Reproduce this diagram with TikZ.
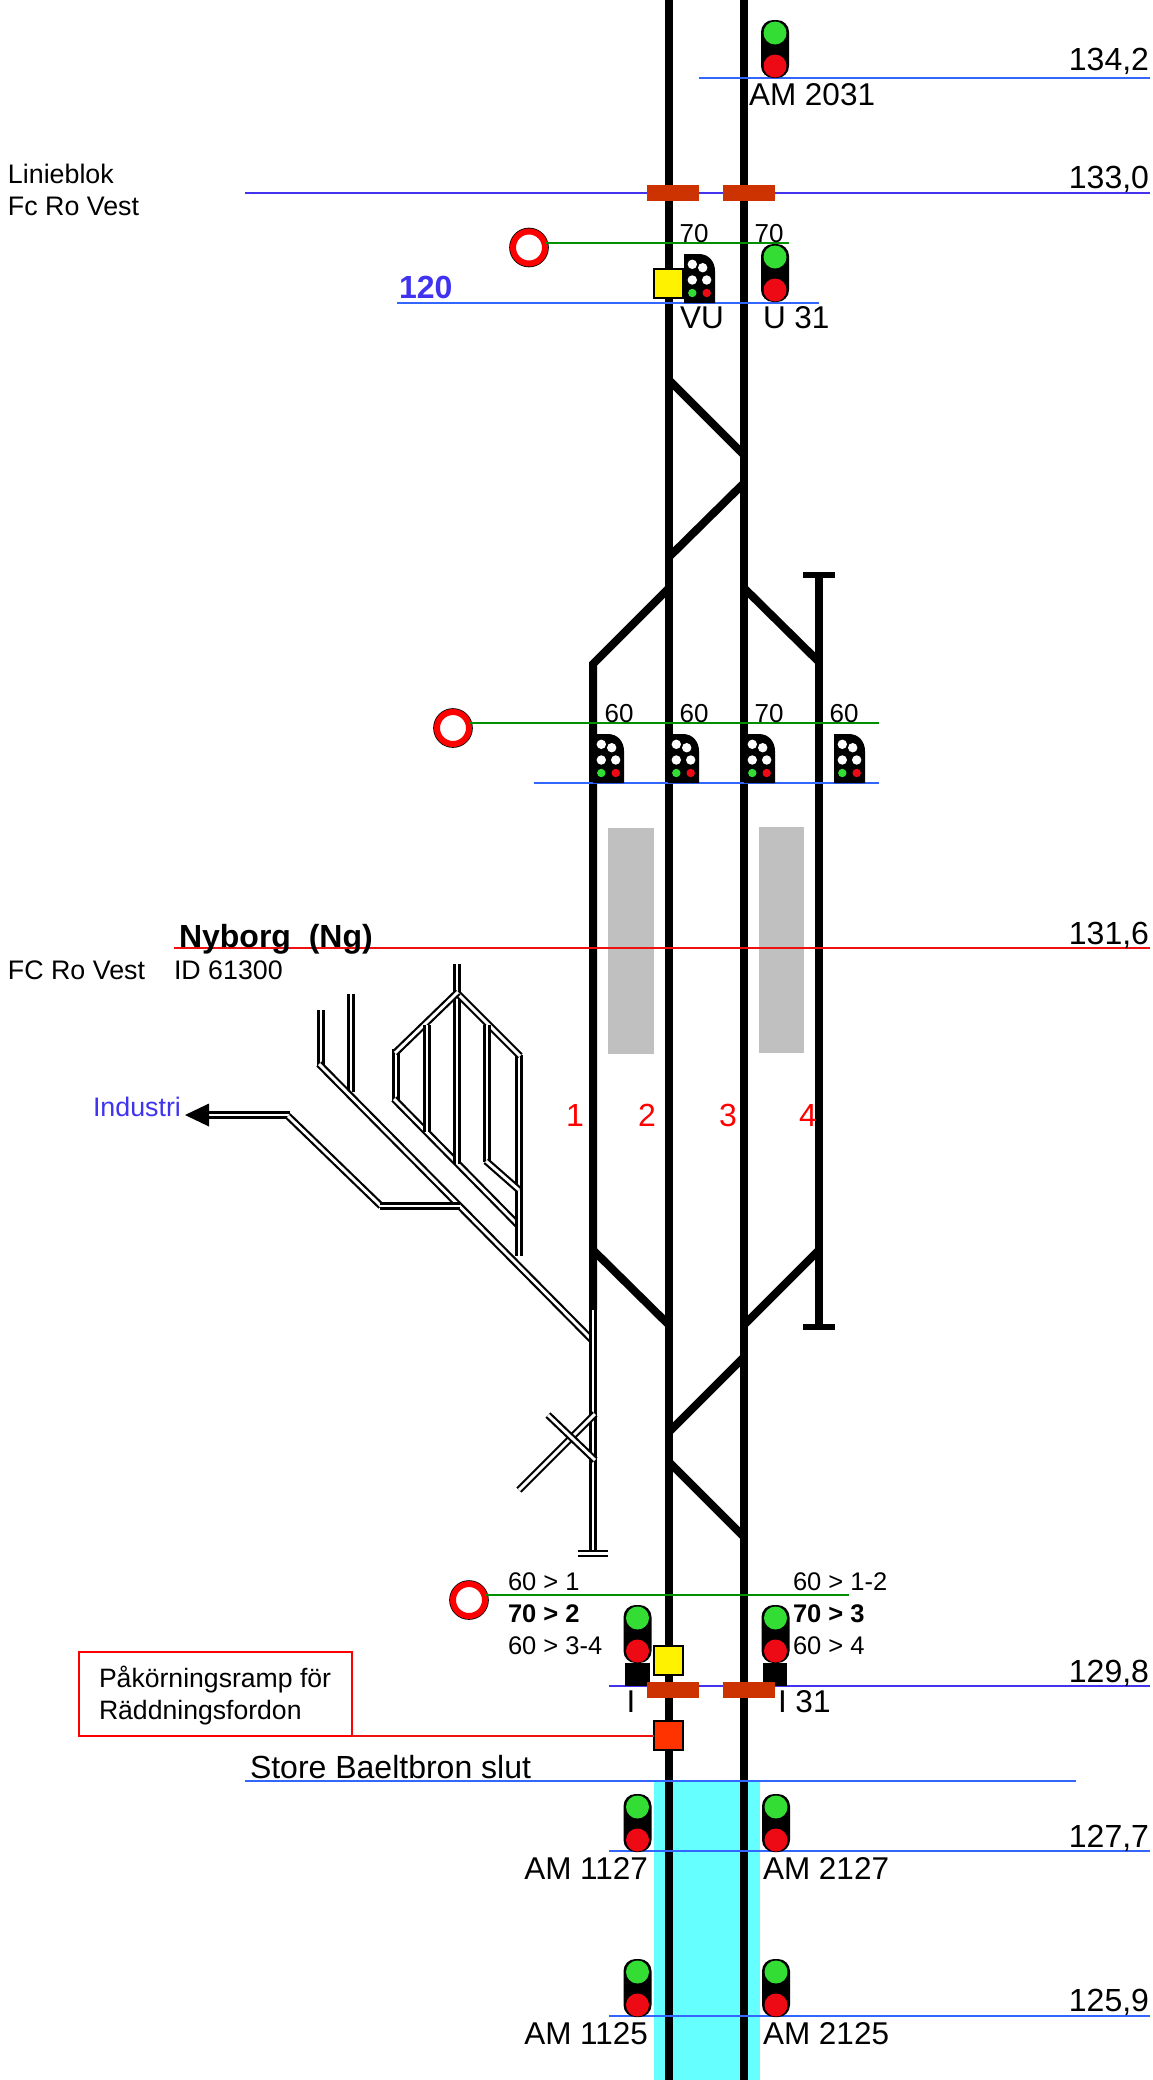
\documentclass[tikz,border=0pt]{standalone}
\usepackage{fontspec}
\setmainfont{Liberation Sans}
\definecolor{lineblue}{HTML}{3366FF}
\definecolor{linepurple}{HTML}{4433EE}
\definecolor{linegreen}{HTML}{009000}
\definecolor{linered}{HTML}{F01010}
\definecolor{brick}{HTML}{CC3300}
\definecolor{siggreen}{HTML}{33DD33}
\definecolor{sigred}{HTML}{EE0A14}
\definecolor{platform}{HTML}{C0C0C0}
\definecolor{bridge}{HTML}{66FFFF}
\definecolor{ramporange}{HTML}{FF3300}
\definecolor{textblue}{HTML}{3F33F0}
\tikzset{
  txt/.style={inner sep=0pt,outer sep=0pt,anchor=base west,text=black},
  fa/.style={font=\fontsize{26}{28}\selectfont},
  fl/.style={font=\fontsize{26.8}{29}\selectfont},
  fs/.style={font=\fontsize{25.5}{27}\selectfont},
  fb/.style={font=\fontsize{31.5}{33}\selectfont},
  fk/.style={font=\fontsize{32}{34}\selectfont},
  fr/.style={font=\fontsize{26.6}{29}\selectfont},
  ctr/.style={anchor=base},
  rgt/.style={anchor=base east},
  track/.style={line width=8pt,black,line join=miter},
  yard/.style={line width=2.2pt,double=white,double distance=2.9pt,black},
  bluel/.style={line width=2pt,lineblue},
  purpl/.style={line width=2pt,linepurple},
  greenl/.style={line width=2pt,linegreen},
  redl/.style={line width=2pt,linered},
  block/.style={fill=brick},
  ring/.style={circle,minimum size=32pt,inner sep=0pt,outer sep=0pt,draw=red,line width=6pt,fill=white,preaction={draw=black,line width=7.6pt}},
  mark box/.style={rectangle,minimum size=29pt,inner sep=0pt,outer sep=0pt,draw=black,line width=2pt},
}
\newcommand{\lightsig}[2]{\begin{scope}[shift={(#1,#2)}]
  \fill[black,rounded corners=12pt] (-14,0) rectangle (14,58);
  \fill[siggreen] (0,13) circle (11.5);
  \fill[sigred] (0,46) circle (11.5);
\end{scope}}
\newcommand{\dotsig}[2]{\begin{scope}[shift={(#1,#2)}]
  \fill[black] (0,0) -- (15,0) .. controls (25,0) and (31,8) .. (31,17) -- (31,49) -- (0,49) -- cycle;
  \fill[white] (8.3,10.3) circle (4.7) (18.7,13.7) circle (4.7) (8.3,26) circle (4.7) (22.7,26) circle (4.7);
  \fill[siggreen] (8.3,39) circle (4.2);
  \fill[sigred] (22.7,39) circle (4.2);
\end{scope}}
\begin{document}
\begin{tikzpicture}[x=1pt,y=-1pt]
\useasboundingbox (0,0) rectangle (1152,2080);
\fill[white] (0,0) rectangle (1152,2080);
% bridge and platforms
\fill[bridge] (654,1781) rectangle (760,2080);
\fill[platform] (608,828) rectangle (654,1054);
\fill[platform] (759,827) rectangle (804,1053);
% main tracks
\draw[track] (669,0) -- (669,2080);
\draw[track] (744,0) -- (744,2080);
\draw[track] (669,380) -- (744,455);
\draw[track] (669,557) -- (744,483);
\draw[track] (593,1310) -- (593,664) -- (669,588);
\draw[track] (744,588) -- (819,662);
\draw[track] (819,575) -- (819,1327);
\draw[line width=6pt] (803,575) -- (835,575);
\draw[line width=6pt] (803,1327) -- (835,1327);
\draw[track] (593,1250) -- (669,1325);
\draw[track] (819,1250) -- (744,1325);
\draw[track] (744,1357) -- (669,1432);
\draw[track] (669,1462) -- (744,1537);
% yard
\draw[yard] (321,1010) -- (321,1067);
\draw[yard] (351,994) -- (351,1092);
\draw[yard] (319,1064) -- (593,1341);
\draw[yard] (593,1310) -- (593,1553);
\draw[yard] (578,1553.5) -- (608,1553.5);
\draw[yard] (290,1115) -- (207,1115);
\draw[yard] (288,1116) -- (381,1206);
\draw[yard] (380,1206) -- (460,1206);
\draw[yard] (396,1049) -- (396,1102);
\draw[yard] (394,1099) -- (519,1226);
\draw[yard] (519,1055) -- (519,1256);
\draw[yard] (457,964) -- (457,1164);
\draw[yard] (457,993) -- (520,1056);
\draw[yard] (458,992) -- (395,1053);
\draw[yard] (427,1025) -- (427,1132);
\draw[yard] (487,1025) -- (487,1162);
\draw[yard] (486,1161) -- (519,1190);
\draw[yard] (595,1414) -- (519,1490);
\draw[yard] (548,1415) -- (595,1460);
\fill[black] (185,1115) -- (209,1103.5) -- (209,1126.5) -- cycle;
% horizontal reference lines
\draw[bluel] (699,78) -- (1150,78);
\draw[purpl] (245,193) -- (1150,193);
\node[ring] (ringa) at (529,247.5) {};
\coordinate (ringaend) at (789,243);
\draw[greenl] (ringa.east |- ringaend) -- (ringaend);
\draw[bluel] (397,303) -- (819,303);
\node[ring] (ringb) at (453,728) {};
\coordinate (ringbend) at (879,723);
\draw[greenl] (ringb.east |- ringbend) -- (ringbend);
\draw[bluel] (534,783) -- (879,783);
\draw[linered,line width=2pt] (174,948) -- (1150,948);
\node[ring] (ringc) at (469,1600) {};
\coordinate (ringcend) at (849,1595);
\draw[greenl] (ringc.east |- ringcend) -- (ringcend);
\draw[purpl] (609,1686) -- (1150,1686);
\draw[bluel] (245,1781) -- (1076,1781);
\draw[bluel] (609,1851) -- (1150,1851);
\draw[bluel] (609,2016) -- (1150,2016);
% signals
\lightsig{775}{20}
\lightsig{775}{244}
\dotsig{684}{254}
\dotsig{593}{734}
\dotsig{668}{734}
\dotsig{744}{734}
\dotsig{834}{734}
\lightsig{637.5}{1605}
\lightsig{775.5}{1605}
\fill[black] (625,1663) rectangle (650,1686);
\fill[black] (763,1663) rectangle (787,1686);
\lightsig{637.5}{1794}
\lightsig{776}{1794}
\lightsig{637.5}{1959}
\lightsig{776}{1959}
% blocks and boxes
\fill[block] (647,185) rectangle (699,201);
\fill[block] (723,185) rectangle (775,201);
\node[mark box,fill=yellow] (yellowa) at (668.5,283.5) {};
\node[mark box,fill=yellow] (yellowb) at (668.5,1660) {};
\fill[block] (647,1682) rectangle (699,1698);
\fill[block] (723,1682) rectangle (775,1698);
\node[mark box,fill=ramporange] (rampbox) at (668.5,1735.5) {};
\node[draw=red,line width=2pt,rectangle,inner sep=0pt,outer sep=0pt,minimum width=273pt,minimum height=84pt] (ramp) at (215.5,1694) {};
\draw[redl] (ramp.south east) -- (rampbox.west |- ramp.south east);
\node[txt,fr] (ramptxta) at (99,1687) {Påkörningsramp för};
\node[txt,fr] (ramptxtb) at (99,1719) {Räddningsfordon};
% labels
\node[txt,fb] (am2031) at (749,105) {AM 2031};
\node[txt,fk,rgt] (km1) at (1149,70) {134,2};
\node[txt,fk,rgt] (km2) at (1149,188) {133,0};
\node[txt,fk,rgt] (km3) at (1149,944) {131,6};
\node[txt,fk,rgt] (km4) at (1149,1682) {129,8};
\node[txt,fk,rgt] (km5) at (1149,1847) {127,7};
\node[txt,fk,rgt] (km6) at (1149,2011) {125,9};
\node[txt,fl] (linie) at (8,183) {Linieblok};
\node[txt,fl] (fcroa) at (8,215) {Fc Ro Vest};
\node[txt,fa,ctr] (va) at (694,242) {70};
\node[txt,fa,ctr] (vb) at (769,242) {70};
\node[txt,fb] (vu) at (680,328) {VU};
\node[txt,fb] (u31) at (763,328) {U 31};
\node[txt,text=textblue,font=\fontsize{32}{34}\selectfont\bfseries] (speed) at (399,298) {120};
\node[txt,fa,ctr] (vc) at (619,722) {60};
\node[txt,fa,ctr] (vd) at (694,722) {60};
\node[txt,fa,ctr] (ve) at (769,722) {70};
\node[txt,fa,ctr] (vf) at (844,722) {60};
\node[txt,font=\fontsize{32}{34}\selectfont\bfseries] (nyborg) at (179,947) {Nyborg\ \ (Ng)};
\node[txt,fl] (fcrob) at (8,979) {FC Ro Vest};
\node[txt,fl] (idno) at (174,979) {ID 61300};
\node[txt,fl,text=textblue] (industri) at (93,1116) {Industri};
\node[txt,fk,ctr,text=red] (na) at (575,1126) {1};
\node[txt,fk,ctr,text=red] (nb) at (647,1126) {2};
\node[txt,fk,ctr,text=red] (nc) at (728,1126) {3};
\node[txt,fk,ctr,text=red] (nd) at (808,1126) {4};
\node[txt,fs] (la) at (508,1590) {60 > 1};
\node[txt,font=\fontsize{25.5}{27}\selectfont\bfseries] (lb) at (508,1622) {70 > 2};
\node[txt,fs] (lc) at (508,1654) {60 > 3-4};
\node[txt,fs] (ra) at (793,1590) {60 > 1-2};
\node[txt,font=\fontsize{25.5}{27}\selectfont\bfseries] (rb) at (793,1622) {70 > 3};
\node[txt,fs] (rc) at (793,1654) {60 > 4};
\node[txt,fb,ctr] (si) at (631,1712) {I};
\node[txt,fb] (si31) at (778,1712) {I 31};
\node[txt,fk] (store) at (250,1778) {Store Baeltbron slut};
\node[txt,fb,rgt] (am1127) at (648,1879) {AM 1127};
\node[txt,fb] (am2127) at (763,1879) {AM 2127};
\node[txt,fb,rgt] (am1125) at (648,2044) {AM 1125};
\node[txt,fb] (am2125) at (763,2044) {AM 2125};
\end{tikzpicture}
\end{document}
